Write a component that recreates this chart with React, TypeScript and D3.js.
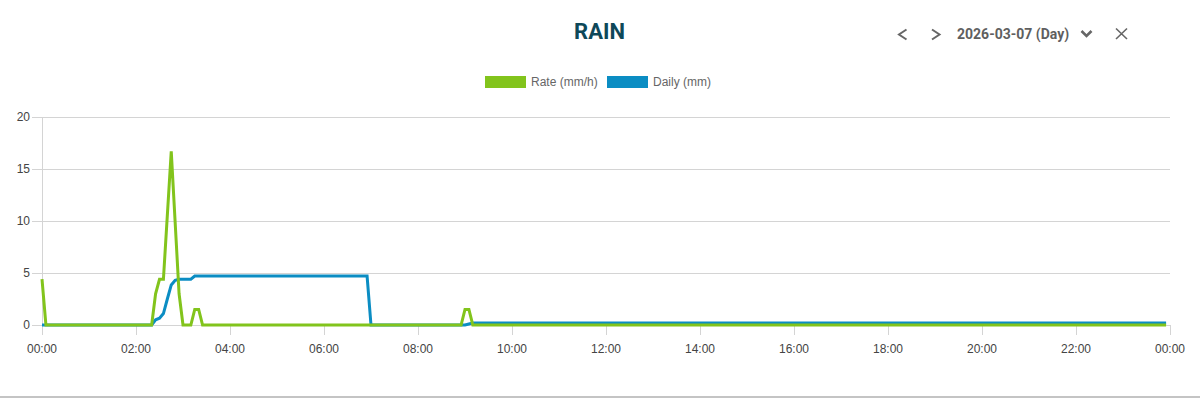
import React from "react";
import * as d3 from "d3";

const title = "RAIN";
const dateLabel = "2026-03-07 (Day)";
const legendLabels = ["Rate (mm/h)", "Daily (mm)"];
const seriesColors = ["#82c41c", "#0b8dc3"];

// x tick labels (every 2 hours)
const xTickLabels = ["00:00", "02:00", "04:00", "06:00", "08:00", "10:00", "12:00", "14:00", "16:00", "18:00", "20:00", "22:00", "00:00"];
const yTicks = [0, 5, 10, 15, 20];

// Rate (mm/h) – recorded points (5‑minute samples where the value changes)
const rateTimes = ["00:00", "00:05", "02:20", "02:25", "02:30", "02:35", "02:45", "02:55", "03:00", "03:10", "03:15", "03:20", "03:25", "08:55", "09:00", "09:05", "09:10", "23:55"];
const rateValues = [4.4, 0, 0, 3.0, 4.4, 4.4, 16.7, 3.0, 0, 0, 1.5, 1.5, 0, 0, 1.5, 1.5, 0, 0];

// Daily (mm)
const dailyTimes = ["00:00", "02:20", "02:25", "02:30", "02:35", "02:40", "02:45", "02:50", "02:55", "03:10", "03:15", "06:55", "07:00", "09:00", "09:05", "09:10", "23:55"];
const dailyValues = [0, 0, 0.5, 0.65, 1.1, 2.5, 3.85, 4.3, 4.4, 4.4, 4.7, 4.7, 0, 0, 0.1, 0.2, 0.2];

const toMin = (t: string) => {
  const [h, m] = t.split(":").map(Number);
  return h * 60 + m;
};

export default function App() {
  const W = 1200, H = 399;
  const left = 42, right = 1170, top = 117, bottom = 325;
  const x = d3.scaleLinear().domain([0, 1440]).range([left, right]);
  const y = d3.scaleLinear().domain([0, 20]).range([bottom, top]);
  const line = d3
    .line<[number, number]>()
    .x((d) => x(d[0]))
    .y((d) => y(d[1]));

  const rateData: [number, number][] = rateTimes.map((t, i) => [toMin(t), rateValues[i]]);
  const dailyData: [number, number][] = dailyTimes.map((t, i) => [toMin(t), dailyValues[i]]);
  const xTickPos = xTickLabels.map((_, i) => i * 120);

  const font = "'Liberation Sans', Arial, Helvetica, sans-serif";
  const navColor = "#666";

  return (
    <div style={{ position: "absolute", left: 0, top: 0, width: W, height: H }}>
      <svg width={W} height={H} style={{ display: "block" }}>
        <rect x={0} y={0} width={W} height={H} fill="#fff" />
        {/* Title */}
        <text x={599.5} y={38.5} textAnchor="middle" fontFamily="Roboto, sans-serif" fontWeight={700} fontSize={22} fill="#0e4859">
          {title}
        </text>
        {/* Nav */}
        <path d="M906.5,29.5 L899,34.5 L906.5,39.5" fill="none" stroke={navColor} strokeWidth={2} />
        <path d="M932,29.5 L939.5,34.5 L932,39.5" fill="none" stroke={navColor} strokeWidth={2} />
        <text x={957} y={39} fontFamily="Roboto, sans-serif" fontWeight={700} fontSize={14} fill="#5f5f5f">
          {dateLabel}
        </text>
        <path d="M1081.5,31 L1086.5,36 L1091.5,31" fill="none" stroke={navColor} strokeWidth={2.6} />
        <path d="M1116,28.5 L1127,39 M1127,28.5 L1116,39" fill="none" stroke={navColor} strokeWidth={1.6} />

        {/* Legend */}
        <rect x={485} y={76} width={41} height={12} fill={seriesColors[0]} />
        <text x={531} y={86} fontFamily={font} fontSize={12} fill="#666">{legendLabels[0]}</text>
        <rect x={607} y={76} width={41} height={12} fill={seriesColors[1]} />
        <text x={653} y={86} fontFamily={font} fontSize={12} fill="#666">{legendLabels[1]}</text>

        {/* Grid */}
        {yTicks.map((v) => (
          <g key={v}>
            <line x1={32} x2={right} y1={Math.round(y(v)) + 0.5} y2={Math.round(y(v)) + 0.5} stroke="#d4d4d4" strokeWidth={1} />
            <text x={30} y={y(v) + 4} textAnchor="end" fontFamily={font} fontSize={12} fill="#444">{v}</text>
          </g>
        ))}
        <line x1={left + 0.5} x2={left + 0.5} y1={top} y2={bottom + 10} stroke="#d4d4d4" />
        {xTickPos.map((m, i) => (
          <g key={i}>
            <line x1={Math.round(x(m)) + 0.5} x2={Math.round(x(m)) + 0.5} y1={bottom} y2={bottom + 10} stroke="#d4d4d4" />
            <text x={x(m)} y={353} textAnchor="middle" fontFamily={font} fontSize={12} fill="#444">{xTickLabels[i]}</text>
          </g>
        ))}

        {/* Lines: daily below, rate on top */}
        <path d={line(dailyData) || ""} fill="none" stroke={seriesColors[1]} strokeWidth={3} strokeLinejoin="miter" />
        <path d={line(rateData) || ""} fill="none" stroke={seriesColors[0]} strokeWidth={3} strokeLinejoin="miter" />

        {/* Bottom border */}
        <rect x={0} y={396} width={W} height={2} fill="#c4c4c4" />
      </svg>
    </div>
  );
}
